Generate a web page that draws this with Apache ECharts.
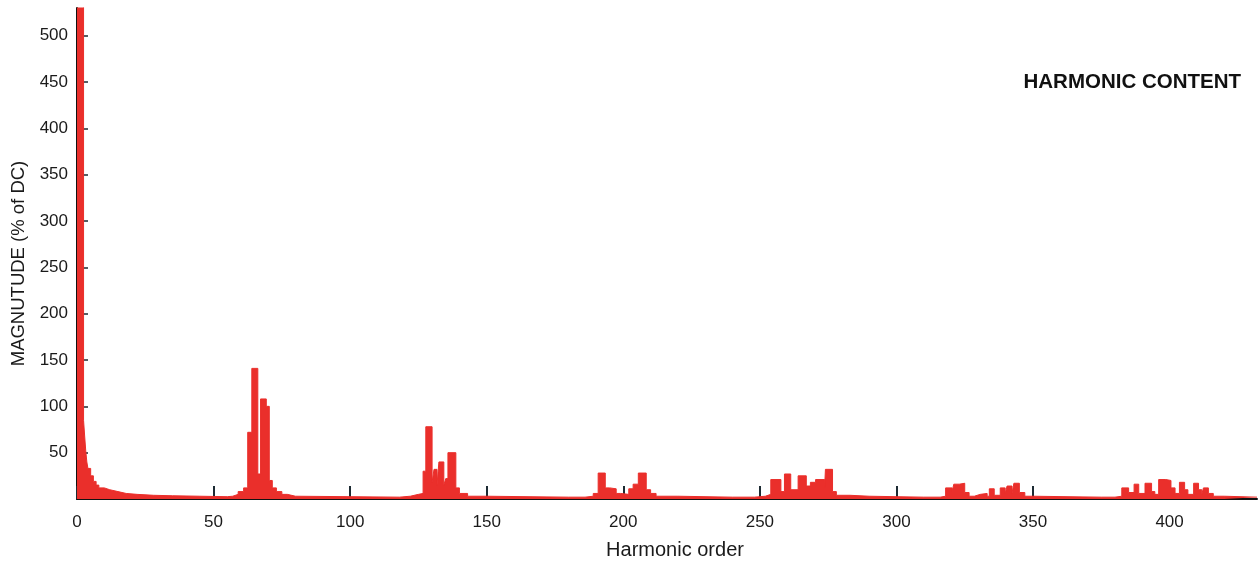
<!DOCTYPE html>
<html>
<head>
<meta charset="utf-8">
<title>Harmonic content</title>
<script src="https://cdn.jsdelivr.net/npm/echarts@6/dist/echarts.min.js"></script>
<style>
  html, body { margin: 0; padding: 0; background: #fff; }
  #chart { width: 1260px; height: 568px; }
</style>
</head>
<body>
<div id="chart"></div>
<script>
// Spectrum breakpoints: each magnitude holds from its order up to the next order (step plot).
const orders = [
  0, 2.4, 2.8, 3.2, 3.6, 4, 5, 6, 7, 8, 10, 12, 15, 18, 22, 28, 35, 45,
  55, 57, 59, 61, 62.5, 64, 66.2, 67.2, 69.3, 70.4, 71.5, 73, 75, 77, 80,
  100, 118, 122, 125, 126.7, 127.7, 130, 130.7, 131.8, 132.5, 134.3, 135, 135.8, 138.7, 140, 143, 150,
  180, 186, 189, 190.8, 193.4, 195, 197.4, 199, 202, 203.6, 205.5, 208.4, 210, 212, 220,
  240, 248, 252, 254, 257.7, 259, 261.3, 264, 267, 268.5, 270.4, 273.7, 274, 276.6, 278, 283, 290,
  310, 316, 318, 320.4, 321, 323, 325, 326.6, 328.5, 330.7, 331.4, 333.2, 334, 335.8, 338, 339.8, 340.5, 342.3, 343, 345, 347, 350,
  375, 380, 382.5, 385, 387, 388.7, 391, 393.4, 394.6, 396, 398.6, 400.5, 402, 403.6, 405.5, 406.7, 408.8, 410.6, 411.8, 412.4, 414.2, 416, 420, 432
];
const magnitudes = [
  600, 85, 68, 52, 40, 33, 25, 19, 15, 12, 10, 8, 6, 5, 4, 3.5, 3, 2.5,
  3, 5, 8, 12, 72, 141, 27, 108, 100, 20, 12, 8, 5, 3, 2.5,
  2, 3, 5, 6, 30, 78, 18, 32, 15, 40, 15, 22, 50, 12, 6, 3, 2,
  2, 3, 6, 28, 12, 11, 6, 5, 11, 16, 28, 10, 6, 3, 2,
  2, 3, 5, 21, 8, 27, 10, 25, 14, 18, 21, 12, 32, 8, 4, 3, 2,
  2, 3, 12, 8, 16, 17, 7, 3, 5, 3, 6, 3, 11, 4, 12, 6, 14, 6, 17, 7, 3, 2,
  2, 3, 12, 7, 16, 6, 17, 8, 5, 21, 20, 12, 6, 18, 10, 5, 17, 10, 5, 12, 6, 3, 2, 2
];

// Axis tick positions and labels
const xTicks = [0, 50, 100, 150, 200, 250, 300, 350, 400];
const yTicks = [50, 100, 150, 200, 250, 300, 350, 400, 450, 500];

const chartTitle = 'HARMONIC CONTENT';
const xName = 'Harmonic order';
const yName = 'MAGNUTUDE (% of DC)';

const spectrum = orders.map((o, i) => [o, magnitudes[i]]);
const font = "'Liberation Sans', Arial, sans-serif";
const red = '#ea2f2b';

const chart = echarts.init(document.getElementById('chart'), null, { renderer: 'canvas' });
chart.setOption({
  animation: false,
  backgroundColor: '#ffffff',
  title: {
    text: chartTitle,
    right: 14,
    top: 67,
    textStyle: { fontFamily: font, fontSize: 20.5, fontWeight: 'bold', color: '#111' }
  },
  grid: { left: 77, right: 3, top: 8, bottom: 69, containLabel: false },
  xAxis: {
    type: 'value',
    min: 0,
    max: 432,
    interval: 50,
    name: xName,
    nameLocation: 'middle',
    nameGap: 41,
    nameTextStyle: { fontFamily: font, fontSize: 20, color: '#1a1a1a', padding: [0, 0, 0, 16] },
    axisLine: { show: true, onZero: false, lineStyle: { color: '#111', width: 2 } },
    axisTick: { show: true, inside: true, length: 13, customValues: xTicks, lineStyle: { color: '#1d2b33', width: 2 } },
    axisLabel: {
      fontFamily: font, fontSize: 17, color: '#1a1a1a', margin: 15,
      customValues: xTicks
    },
    splitLine: { show: false }
  },
  yAxis: {
    type: 'value',
    min: 0,
    max: 530,
    interval: 50,
    name: yName,
    nameLocation: 'middle',
    nameGap: 44,
    nameRotate: 90,
    nameTextStyle: { fontFamily: font, fontSize: 18.5, color: '#1a1a1a', padding: [0, 20, 0, 0] },
    axisLine: { show: true, lineStyle: { color: '#111', width: 2 } },
    axisTick: { show: true, inside: true, length: 11, customValues: yTicks, lineStyle: { color: '#1d2b33', width: 1.5 } },
    axisLabel: {
      fontFamily: font, fontSize: 17, color: '#1a1a1a', margin: 9,
      customValues: yTicks
    },
    splitLine: { show: false }
  },
  series: [{
    type: 'line',
    step: 'end',
    data: spectrum,
    showSymbol: false,
    symbol: 'none',
    clip: true,
    z: 1,
    lineStyle: { color: red, width: 1 },
    itemStyle: { color: red },
    areaStyle: { color: red, opacity: 1 }
  }]
});
</script>
</body>
</html>
